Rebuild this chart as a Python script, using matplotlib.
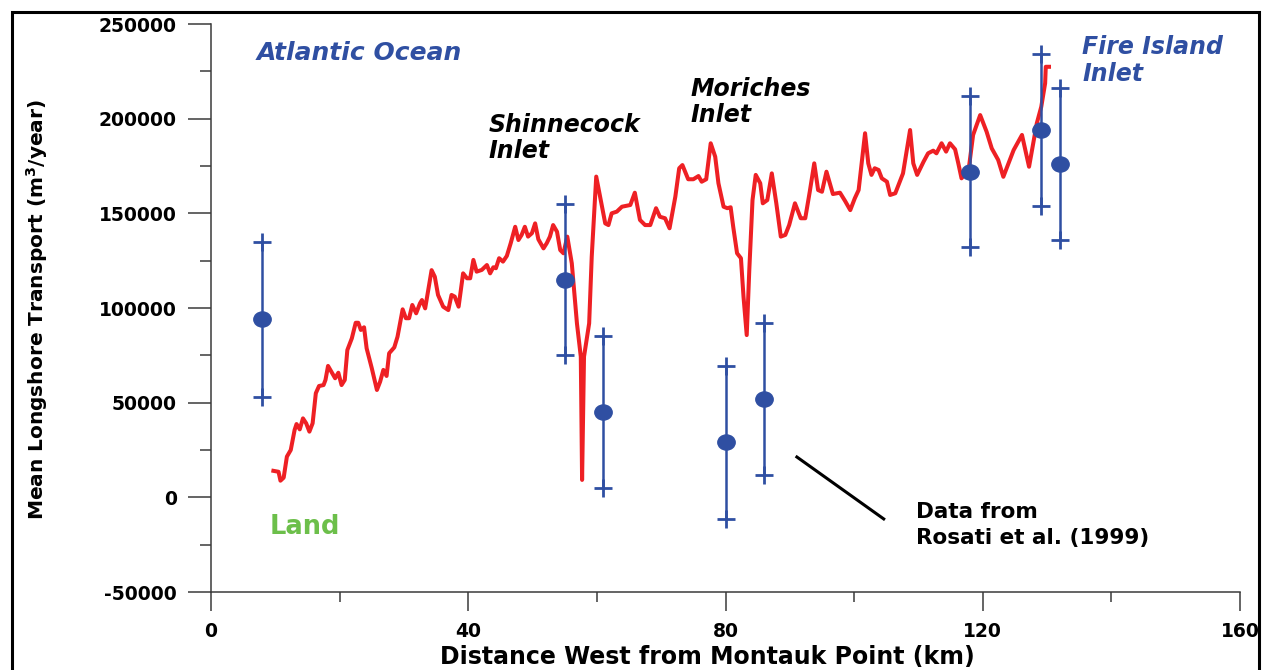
import numpy as np
import matplotlib.pyplot as plt
from matplotlib.patches import Rectangle
from matplotlib.path import Path
from matplotlib.transforms import Affine2D

plt.rcParams['font.family'] = 'DejaVu Sans'
plt.rcParams['font.weight'] = 'bold'
plt.rcParams['mathtext.default'] = 'bf'

# modelled mean longshore transport along the coast (km west of Montauk Point, m3/year)
dist_km = [9.7, 10.5, 10.8, 11.3, 11.8, 12.4, 13.0, 13.3, 13.8, 14.3,
           14.8, 15.3, 15.8, 16.3, 16.8, 17.5, 17.8, 18.2, 18.8, 19.3,
           19.8, 20.3, 20.8, 21.2, 21.9, 22.5, 22.9, 23.3, 23.8, 24.2,
           25.0, 25.8, 26.3, 26.8, 27.3, 27.7, 28.5, 29.0, 29.8, 30.3,
           30.8, 31.3, 31.9, 32.5, 32.8, 33.3, 34.3, 34.8, 35.3, 36.1,
           36.9, 37.4, 37.9, 38.5, 39.2, 39.8, 40.3, 40.8, 41.3, 42.1,
           42.9, 43.4, 43.9, 44.3, 44.8, 45.4, 46.0, 46.6, 47.3, 47.8,
           48.3, 48.8, 49.3, 49.9, 50.4, 50.9, 51.7, 52.2, 52.7, 53.2,
           53.8, 54.3, 54.8, 55.4, 56.1, 56.9, 57.5, 57.7, 58.0, 58.8,
           59.2, 59.9, 60.5, 61.3, 61.8, 62.3, 63.1, 63.9, 65.2, 65.9,
           66.7, 67.5, 68.3, 69.2, 69.8, 70.6, 71.3, 72.2, 72.8, 73.3,
           74.2, 75.0, 75.8, 76.3, 77.0, 77.7, 78.4, 78.9, 79.7, 80.3,
           80.8, 81.2, 81.8, 82.4, 82.8, 83.3, 83.7, 84.2, 84.7, 85.4,
           85.8, 86.5, 87.2, 87.9, 88.6, 89.3, 89.9, 90.8, 91.7, 92.4,
           93.1, 93.8, 94.4, 95.0, 95.7, 96.7, 97.8, 98.6, 99.4, 100.1,
           100.7, 101.7, 102.2, 102.7, 103.2, 103.8, 104.3, 105.1, 105.6, 106.4,
           106.9, 107.6, 108.7, 109.2, 109.8, 110.8, 111.5, 112.3, 112.8, 113.6,
           114.3, 114.9, 115.7, 116.2, 116.7, 117.8, 118.5, 119.6, 120.6, 121.4,
           122.4, 123.2, 124.8, 126.1, 127.2, 128.4, 129.1, 129.7, 129.8, 130.3]

transport = [14000, 13500, 8800, 10400, 21500, 25000, 35600, 38700, 35900, 41700,
             39100, 34700, 39100, 55000, 58800, 59300, 62000, 69400, 65800, 62900,
             65800, 59300, 62000, 77800, 84000, 92200, 92200, 88400, 89800, 78700,
             68200, 56700, 61100, 67300, 64100, 76100, 79200, 84800, 99300, 94600,
             94600, 101600, 97200, 102500, 104200, 99800, 120000, 116500, 106900, 100700,
             98900, 106900, 106000, 100700, 118300, 115700, 115700, 125400, 119200, 120100,
             122700, 118300, 121500, 121000, 126300, 124500, 127500, 134200, 142900, 135900,
             138600, 142900, 137700, 139500, 144700, 136300, 131500, 134200, 137700, 143800,
             140300, 130600, 128900, 137700, 123600, 91900, 74300, 9200, 74300, 91900,
             127100, 169400, 158800, 144700, 143800, 150000, 150900, 153500, 154400, 160900,
             146500, 143800, 143800, 152700, 148200, 147400, 142100, 158800, 173800, 175500,
             168000, 168000, 169700, 166700, 168000, 187000, 179900, 165900, 153500, 152700,
             153200, 142900, 128900, 126300, 106000, 85700, 120100, 157000, 170300, 165900,
             155300, 157000, 171100, 155300, 137700, 138600, 143800, 155300, 147400, 147400,
             161400, 176400, 162300, 161400, 172000, 160200, 160900, 156500, 151700, 157900,
             162300, 192300, 176400, 170300, 173800, 172900, 168500, 166700, 159700, 160600,
             165000, 171100, 194000, 176400, 170300, 177300, 181700, 183100, 181700, 187000,
             182600, 187000, 183800, 176400, 168500, 172900, 191400, 201900, 193100, 184300,
             178200, 169300, 183400, 191400, 174600, 197500, 206300, 218700, 227400, 227400]

# Rosati et al. (1999) estimates with error range
station_km = [8, 55, 61, 80, 86, 118, 129, 132]
station_mean = [94000, 115000, 45000, 29000, 52000, 172000, 194000, 176000]
station_err = [41000, 40000, 40000, 40500, 40000, 40000, 40000, 40000]

# pointer line next to the "Data from" note
pointer_km = [91.1, 104.6]
pointer_val = [21300, -11400]

xticks = [0, 40, 80, 120, 160]
yticks = [-50000, 0, 50000, 100000, 150000, 200000, 250000]

red = '#EE2024'
blue = '#2F4FA2'
green = '#6CBF4A'
axcol = '#3a3a3a'

fig = plt.figure(figsize=(12.62, 6.70), dpi=100)
ax = fig.add_axes([211/1262, 78/670, 1029/1262, 568/670])

ax.plot(dist_km, transport, color=red, lw=2.9, solid_joinstyle='round', zorder=2)

mean = np.array(station_mean)
err = np.array(station_err)
ax.errorbar(station_km, mean, yerr=err, fmt='none', ecolor=blue, elinewidth=1.8, zorder=3)
ax.plot(station_km, mean + err, '+', color=blue, ms=13.5, mew=2.0, zorder=3)
ax.plot(station_km, mean - err, '+', color=blue, ms=13.5, mew=2.0, zorder=3)
oval = Path.unit_circle().transformed(Affine2D().scale(1.15, 1.0))
ax.plot(station_km, mean, linestyle='none', marker=oval, ms=12.5, color=blue, zorder=4)

ax.plot(pointer_km, pointer_val, color='black', lw=2.2, zorder=2)

ax.set_xlim(0, 160)
ax.set_ylim(-50000, 250000)
ax.set_xticks(xticks)
ax.set_xticks([20, 60, 100, 140], minor=True)
ax.set_yticks(yticks)
ax.set_yticks([-25000, 25000, 75000, 125000, 175000, 225000], minor=True)
ax.set_yticklabels([str(v) for v in yticks])

for s in ['top', 'right']:
    ax.spines[s].set_visible(False)
for s in ['left', 'bottom']:
    ax.spines[s].set_linewidth(1.1)
    ax.spines[s].set_color(axcol)

ax.tick_params(axis='y', which='major', length=16.5, width=1.1, color=axcol, pad=8, labelsize=13.5)
ax.tick_params(axis='y', which='minor', length=8, width=1.1, color=axcol)
ax.tick_params(axis='x', which='major', length=13.7, width=1.1, color=axcol, pad=8, labelsize=13.5)
ax.tick_params(axis='x', which='minor', length=7, width=1.1, color=axcol)

ax.text(7.15, 231000, 'Atlantic Ocean', color=blue, fontsize=18, style='italic', va='baseline')
ax.text(43.2, 193100, 'Shinnecock', fontsize=17, style='italic', va='baseline')
ax.text(43.2, 179400, 'Inlet', fontsize=17, style='italic', va='baseline')
ax.text(74.6, 212100, 'Moriches', fontsize=17, style='italic', va='baseline')
ax.text(74.6, 198100, 'Inlet', fontsize=17, style='italic', va='baseline')
ax.text(135.5, 234000, 'Fire Island', color=blue, fontsize=17, style='italic', va='baseline')
ax.text(135.5, 219900, 'Inlet', color=blue, fontsize=17, style='italic', va='baseline')
ax.text(9.1, -19400, 'Land', color=green, fontsize=18.5, va='baseline')
ax.text(109.6, -11100, 'Data from', fontsize=15.5, va='baseline')
ax.text(109.6, -24600, 'Rosati et al. (1999)', fontsize=15.5, va='baseline')

fig.text(37/1262, 1 - 310/670, 'Mean Longshore Transport (m$^{3}$/year)',
         rotation=90, ha='center', va='center', fontsize=14.5)
fig.text(707/1262, 1 - 664/670, 'Distance West from Montauk Point (km)',
         ha='center', va='baseline', fontsize=17)

fig.add_artist(Rectangle((12/1262, -0.05), (1259 - 12)/1262, 1 - 12/670 + 0.05,
                         transform=fig.transFigure, fill=False, lw=2.2, ec='black'))

fig.savefig('out.png', dpi=100)
